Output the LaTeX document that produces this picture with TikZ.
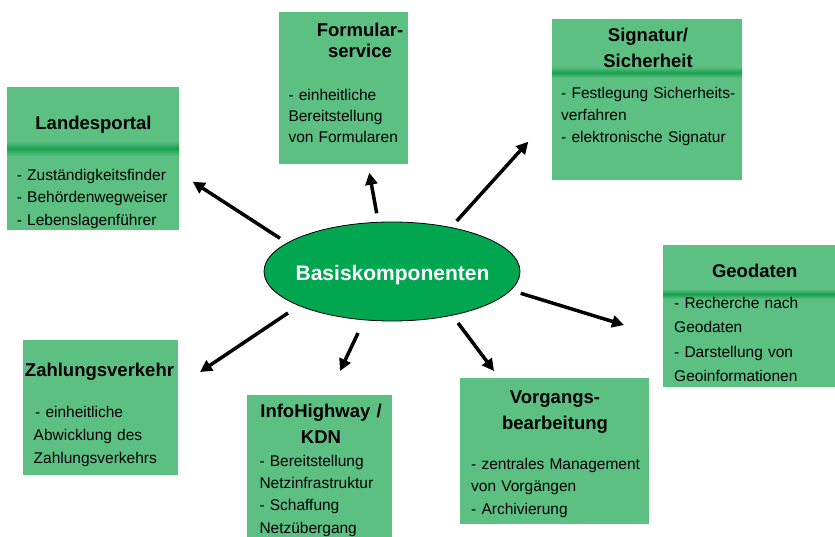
\documentclass[tikz,border=0pt]{standalone}
\usepackage{fontspec}
\setmainfont{Liberation Sans}
\usetikzlibrary{arrows.meta,shapes.geometric}
\definecolor{boxgreen}{RGB}{92,192,130}
\definecolor{stripegreen}{RGB}{25,160,80}
\definecolor{ellgreen}{RGB}{0,166,80}
\tikzset{
  panel/.style={fill=boxgreen, draw=none, inner sep=0pt, anchor=north west},
  ttl/.style={font=\bfseries\fontsize{18.5}{26}\selectfont, text width=220pt, align=center, anchor=base, inner sep=0pt},
  bodytxt/.style={font=\fontsize{15.5}{22.5}\selectfont, text width=220pt, align=left, anchor=base west, inner sep=0pt},
  stripe/.style={top color=boxgreen, bottom color=boxgreen, middle color=stripegreen},
  conn/.style={line width=3.5pt, -{Triangle[length=12pt,width=12pt]}}
}
\begin{document}
\begin{tikzpicture}[x=1pt,y=-1pt]
\clip (0,0) rectangle (835,536);
\fill[white] (0,0) rectangle (835,536);

% boxes
\node[panel, minimum width=172pt, minimum height=143pt] (lpbox) at (7,87) {};
\node[panel, minimum width=129pt, minimum height=152pt] (fsbox) at (279,12) {};
\node[panel, minimum width=190pt, minimum height=161pt] (sgbox) at (552,19) {};
\node[panel, minimum width=175pt, minimum height=142pt] (gdbox) at (663,245) {};
\node[panel, minimum width=155pt, minimum height=135pt] (zvbox) at (23,340) {};
\node[panel, minimum width=145pt, minimum height=145pt] (ihbox) at (247,395) {};
\node[panel, minimum width=189pt, minimum height=146pt] (vbbox) at (460,378) {};

% darker stripes
\path[stripe] (7,141) rectangle (179,156);
\path[stripe] (552,67) rectangle (742,78);
\path[stripe] (663,289) rectangle (835,299);

% titles
\node[ttl] (lpt) at (93.5,129.5) {Landesportal};
\node[ttl, font=\bfseries\fontsize{18.5}{20.5}\selectfont] (fst) at (360,36.7) {Formular-\\service};
\node[ttl] (sgt) at (648,41.7) {Signatur/\\Sicherheit};
\node[ttl] (gdt) at (754.7,277.3) {Geodaten};
\node[ttl] (zvt) at (99.5,376) {Zahlungsverkehr};
\node[ttl] (iht) at (321,417.3) {InfoHighway /\\KDN};
\node[ttl] (vbt) at (555,403.3) {Vorgangs-\\bearbeitung};

% bodies
\node[bodytxt] (lpb) at (16.7,180) {- Zuständigkeitsfinder\\- Behördenwegweiser\\- Lebenslagenführer};
\node[bodytxt, font=\fontsize{15.5}{21.3}\selectfont] (fsb) at (288.3,100) {- einheitliche\\Bereitstellung\\von Formularen};
\node[bodytxt, font=\fontsize{15.5}{22}\selectfont] (sgb) at (561,98.3) {- Festlegung Sicherheits-\\verfahren\\- elektronische Signatur};
\node[bodytxt, font=\fontsize{15.5}{24.5}\selectfont] (gdb) at (674,308.3) {- Recherche nach\\Geodaten\\- Darstellung von\\Geoinformationen};
\node[bodytxt, font=\fontsize{15.5}{23}\selectfont] (zvb) at (33.5,417.3) {\hspace*{1.5pt}- einheitliche\\Abwicklung des\\Zahlungsverkehrs};
\node[bodytxt, font=\fontsize{15.5}{22.4}\selectfont] (ihb) at (259.3,466) {- Bereitstellung\\Netzinfrastruktur\\- Schaffung\\Netzübergang};
\node[bodytxt, font=\fontsize{15.5}{22.7}\selectfont] (vbb) at (471,469) {- zentrales Management\\von Vorgängen\\- Archivierung};

% centre ellipse
\node[draw=black, line width=0.8pt, fill=ellgreen, ellipse, minimum width=256pt, minimum height=99pt, inner sep=0pt] (core) at (392,271.5) {};
\node[font=\bfseries\fontsize{21}{25}\selectfont, text=white, anchor=base, inner sep=0pt] (coret) at (392.5,280) {Basiskomponenten};

% connectors
\coordinate (t1) at (280,238.3); \coordinate (h1) at (192.7,181.7);
\coordinate (t2) at (376.7,213.3); \coordinate (h2) at (369.3,172.7);
\coordinate (t3) at (456.7,221); \coordinate (h3) at (528.3,141.7);
\coordinate (t4) at (520.7,293.3); \coordinate (h4) at (624,325);
\coordinate (t5) at (458,323); \coordinate (h5) at (494,371);
\coordinate (t6) at (358,333); \coordinate (h6) at (340,371);
\coordinate (t7) at (288,313); \coordinate (h7) at (200,372);
\draw[conn] (t1) -- (h1);
\draw[conn] (t2) -- (h2);
\draw[conn] (t3) -- (h3);
\draw[conn] (t4) -- (h4);
\draw[conn] (t5) -- (h5);
\draw[conn] (t6) -- (h6);
\draw[conn] (t7) -- (h7);
\end{tikzpicture}
\end{document}
